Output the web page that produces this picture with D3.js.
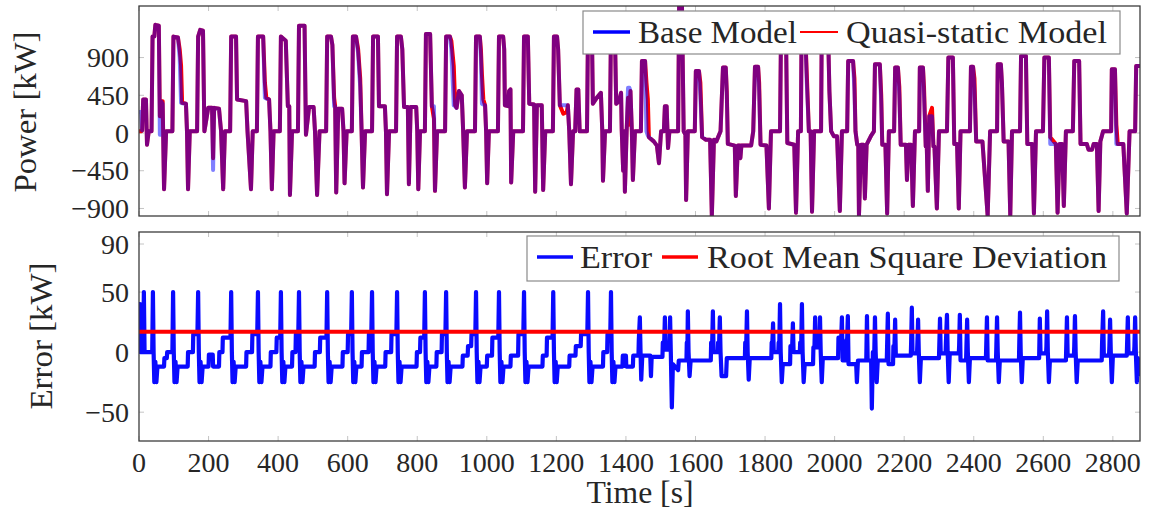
<!DOCTYPE html>
<html>
<head>
<meta charset="utf-8">
<script src="https://cdn.jsdelivr.net/npm/d3@7"></script>
<style>
    html, body { margin: 0; padding: 0; background: #fff; }
    svg { display: block; }
</style>
</head>
<body>
<svg id="chart" width="1151" height="520"></svg>
<script>
/***************************************************************
    Data
****************************************************************/
// top panel: shared time stamps [s], power [kW] of both models
const powerTime = [
    0, 6, 9, 12, 20, 23, 28, 36,
    39, 44, 47, 57, 60, 63, 68, 72, 78, 96,
    99, 112, 117, 121, 124, 135, 138, 141, 146, 167,
    170, 176, 184, 188, 199, 210, 213, 216, 230, 236, 242, 247, 262,
    265, 279, 282, 308, 312, 322, 327, 339,
    342, 357, 362, 366, 374, 378, 382, 387, 405,
    408, 422, 428, 432, 434, 440, 457,
    460, 476, 480, 489, 502, 506, 512, 519, 538,
    541, 552, 556, 561, 564, 567, 573, 584, 588, 591, 597, 612,
    615, 624, 630, 636, 640, 644, 650, 670,
    673, 687, 690, 707, 710, 713, 719, 739,
    742, 753, 757, 762, 773, 776, 781, 797, 800, 803, 808, 822,
    825, 837, 842, 848, 851, 857, 880,
    883, 894, 898, 905, 909, 913, 920, 928, 932, 937, 943, 966,
    969, 980, 983, 986, 990, 995, 998, 1001, 1006, 1032,
    1035, 1047, 1050, 1052, 1061, 1064, 1068, 1070, 1076, 1104,
    1107, 1118, 1122, 1136, 1139, 1144, 1158, 1162, 1168, 1190,
    1193, 1202, 1205, 1210, 1220, 1230, 1233, 1237, 1242, 1248, 1254, 1258, 1263, 1267, 1288,
    1291, 1302, 1305, 1316, 1328, 1332, 1334, 1340, 1354,
    1357, 1368, 1372, 1380, 1386, 1388, 1392, 1395, 1397, 1402, 1406, 1410, 1413, 1417, 1420, 1426, 1443,
    1446, 1455, 1459, 1463, 1466, 1480, 1489, 1495, 1501, 1509, 1512, 1517, 1521, 1525, 1550,
    1553, 1561, 1566, 1571, 1573, 1578, 1598,
    1601, 1610, 1614, 1619, 1630, 1642, 1647, 1653, 1660, 1672,
    1679, 1687, 1690, 1693, 1713, 1716, 1722, 1727, 1729, 1732, 1760, 1766,
    1771, 1780, 1783, 1787, 1804, 1811, 1817, 1843,
    1846, 1860, 1864, 1884, 1889, 1895, 1903,
    1905, 1915, 1920, 1926, 1931, 1935, 1941, 1961,
    1963, 1981, 1985, 1990, 1998, 2007, 2015, 2021, 2036,
    2039, 2053, 2057, 2060, 2065, 2068, 2070, 2076, 2083, 2087, 2092, 2105, 2113,
    2116, 2130, 2134, 2137, 2146, 2151, 2156, 2171,
    2174, 2182, 2186, 2190, 2205, 2208, 2212, 2220, 2225, 2231, 2243,
    2245, 2254, 2257, 2262, 2265, 2268, 2272, 2280, 2284, 2287, 2294, 2300, 2323,
    2327, 2340, 2344, 2352, 2357, 2362, 2389,
    2392, 2398, 2402, 2407, 2425, 2440, 2447, 2467,
    2469, 2478, 2481, 2486, 2500, 2505, 2510, 2533,
    2536, 2550, 2554, 2568, 2573, 2579, 2599,
    2603, 2616, 2620, 2636, 2641, 2647, 2654, 2659, 2665, 2685,
    2689, 2703, 2707, 2725, 2730, 2740, 2745, 2754, 2759, 2764, 2772, 2795,
    2797, 2806, 2810, 2814, 2830, 2840, 2848, 2864, 2867, 2878
];
const baseModel = [
    250, 250, 30, 400, 400, -140, 20, 20,
    1150, 1150, 1290, 1280, -20, 380, 350, -670, 20, 20,
    1150, 1140, 900, 360, 355, 350, 20, -670, 20, 20,
    1150, 1230, 1220, 20, 300, 300, -440, 300, 290, 20, -670, 20, 20,
    1150, 1150, 400, 380, 20, -670, 20, 20,
    1150, 1150, 420, 410, 400, 20, -670, 20, 20,
    1150, 1100, 320, 320, -740, 20, 20,
    1280, 1280, -20, 310, 310, 20, -740, 20, 20,
    1150, 1150, 1050, 320, 320, -710, 290, 290, 20, -600, 20, 20,
    1150, 1150, 950, 550, 20, -650, 20, 20,
    1150, 1150, 320, 320, 20, -730, 20, 20,
    1150, 1150, 1000, 310, 310, -610, 310, 310, 20, -670, 20, 20,
    1180, 1180, 320, 320, -690, 20, 20,
    1150, 1150, 1000, 330, 320, 300, 500, 450, 20, -650, 20, 20,
    1150, 1150, 900, 350, 340, 330, 20, -600, 20, 20,
    1150, 1150, 1000, 330, 320, 500, 520, -590, 20, 20,
    1150, 1150, 350, 340, -700, 330, 330, -680, 20, 20,
    1150, 1150, 1000, 330, 330, 330, 330, 20, -610, 20, 20, 520, 520, 20, 20,
    1250, 1250, 350, 420, 480, 20, -570, 20, 20,
    1250, 1250, 350, 380, 480, 20, -450, 20, -700, 20, 540, 540, 500, 20, -560, 20, 20,
    860, 860, 20, -30, -50, -100, -150, -360, 20, 20, 320, 320, -180, 20, 20,
    1560, 1560, 20, -20, -800, 20, 20,
    740, 740, 450, -50, -80, -80, -990, -80, -100, 20,
    780, 780, 450, -130, -150, -750, -150, -150, -300, -150, -150, 20,
    790, 790, 500, -140, -150, -900, 20, 20,
    1250, 1250, -120, -140, -950, 20, 20,
    1250, 1250, 600, 20, 20, -940, 20, 20,
    1250, 1250, 500, 20, -40, -40, -930, 20, 20,
    860, 860, 500, 20, -140, -140, -990, -140, -140, -780, -140, -30, 20,
    820, 820, 350, -140, -140, -960, 20, 20,
    780, 780, 450, -140, -140, -560, -140, -140, -870, 20, 20,
    780, 780, 450, -160, -160, -690, 200, 200, -160, -160, -900, 20, 20,
    900, 900, -130, -130, -900, 20, 20,
    790, 790, 500, -100, -100, -990, 20, 20,
    820, 820, 600, -100, -100, -990, 20, 20,
    920, 920, -130, -130, -960, 20, 20,
    900, 900, -130, -130, -950, -130, -130, -870, 20, 20,
    860, 860, -130, -130, -200, -200, -130, -130, -930, -100, 20, 20,
    760, 760, -130, -130, -130, -960, 20, 20, 800, 800
];
const quasiStatic = [
    20, 20, 30, 400, 400, -140, 20, 20,
    1150, 1150, 1290, 1280, 200, 380, 380, -670, 20, 20,
    1150, 1140, 1000, 800, 360, 350, 20, -670, 20, 20,
    1150, 1230, 1220, 20, 300, 300, -300, 300, 290, 20, -670, 20, 20,
    1150, 1150, 400, 380, 20, -670, 20, 20,
    1150, 1150, 600, 420, 400, 20, -670, 20, 20,
    1150, 1100, 320, 320, -740, 20, 20,
    1280, 1280, -20, 310, 310, 20, -740, 20, 20,
    1150, 1150, 1050, 420, 320, -710, 290, 290, 20, -600, 20, 20,
    1150, 1150, 1000, 650, 20, -650, 20, 20,
    1150, 1150, 320, 320, 20, -730, 20, 20,
    1150, 1150, 1000, 310, 310, -610, 310, 310, 20, -670, 20, 20,
    1180, 1180, 320, 170, -690, 20, 20,
    1150, 1150, 1100, 800, 330, 300, 500, 450, 20, -650, 20, 20,
    1150, 1150, 1000, 700, 400, 330, 20, -600, 20, 20,
    1150, 1150, 1000, 330, 320, 500, 520, -590, 20, 20,
    1150, 1150, 350, 340, -700, 330, 330, -680, 20, 20,
    1150, 1150, 1000, 330, 230, 250, 330, 20, -610, 20, 20, 520, 520, 20, 20,
    1250, 1250, 350, 420, 480, 20, -570, 20, 20,
    1250, 1250, 350, 380, 480, 20, -450, 20, -700, 20, 420, 100, 500, 20, -560, 20, 20,
    860, 860, 600, 400, -50, -100, -150, -360, 20, 20, 320, 320, -180, 20, 20,
    1560, 1560, 20, -20, -800, 20, 20,
    740, 740, 600, -50, -80, -80, -990, -80, -100, 20,
    780, 780, 500, -130, -150, -750, -150, -150, -300, -150, -150, 20,
    790, 790, 600, -140, -150, -900, 20, 20,
    1250, 1250, -120, -140, -950, 20, 20,
    1250, 1250, 700, 20, 20, -940, 20, 20,
    1250, 1250, 500, 20, -40, -40, -930, 20, 20,
    860, 860, 650, 20, -140, -140, -990, -140, -140, -780, -140, -30, 20,
    820, 820, 450, -140, -140, -960, 20, 20,
    780, 780, 550, -140, -140, -560, -140, -140, -870, 20, 20,
    780, 780, 550, -160, -160, -690, 200, 300, -160, -160, -900, 20, 20,
    900, 900, -130, -130, -900, 20, 20,
    790, 790, 650, -100, -100, -990, 20, 20,
    820, 820, 600, -100, -100, -990, 20, 20,
    920, 920, -130, -130, -960, 20, 20,
    900, 900, -50, -130, -950, -130, -130, -870, 20, 20,
    860, 860, -130, -130, -200, -200, -130, -130, -930, -100, 20, 20,
    760, 760, 100, -130, -130, -960, 20, 20, 800, 800
];

// bottom panel: error [kW] (time stamps and values, one cycle per line)
const errorTime = [
    0, 3, 4, 12, 14, 16, 38,
    40, 42, 44, 47, 50, 53, 72, 73, 80, 81, 96,
    98, 100, 102, 105, 108, 111, 140, 141, 155, 156, 168,
    170, 172, 174, 177, 180, 183, 200, 201, 212, 213, 230, 231, 240, 241, 263,
    265, 267, 269, 272, 275, 278, 308, 309, 325, 326, 340,
    342, 344, 346, 349, 352, 355, 378, 379, 395, 396, 406,
    408, 410, 412, 415, 418, 421, 440, 441, 450, 451, 458,
    460, 462, 464, 467, 470, 473, 505, 506, 520, 521, 539,
    541, 543, 545, 548, 551, 554, 585, 586, 600, 601, 610,
    612, 614, 616, 619, 622, 625, 640, 641, 660, 661, 668,
    670, 672, 674, 677, 680, 683, 708, 709, 725, 726, 740,
    742, 744, 746, 749, 752, 755, 798, 799, 808, 809, 820,
    822, 824, 826, 829, 832, 835, 855, 856, 870, 871, 881,
    883, 885, 887, 890, 893, 896, 930, 931, 945, 946, 955, 956, 967,
    969, 971, 973, 976, 979, 982, 1000, 1001, 1015, 1016, 1033,
    1035, 1037, 1039, 1042, 1045, 1048, 1068, 1069, 1090, 1091, 1105,
    1107, 1109, 1111, 1114, 1117, 1120, 1160, 1161, 1172, 1173, 1189,
    1191, 1193, 1195, 1198, 1201, 1204, 1237, 1238, 1255, 1256, 1270, 1271, 1289,
    1291, 1293, 1295, 1298, 1301, 1304, 1334, 1335, 1346, 1347, 1355,
    1357, 1359, 1361, 1364, 1367, 1370, 1390, 1391, 1400, 1401, 1420, 1421, 1436, 1437,
    1440, 1442, 1444, 1447, 1470, 1472, 1474, 1505, 1506, 1510,
    1512, 1514, 1525, 1527, 1529, 1532, 1535, 1550, 1552, 1574, 1575, 1577,
    1578, 1580, 1583, 1586, 1644, 1645, 1648,
    1650, 1652, 1664, 1665, 1668, 1670, 1672, 1675, 1688, 1690, 1742, 1743, 1746,
    1748, 1750, 1753, 1756, 1818, 1819, 1821,
    1823, 1825, 1838, 1839, 1841,
    1843, 1845, 1848, 1851, 1872, 1873, 1878,
    1880, 1882, 1900, 1901, 1904,
    1906, 1908, 1911, 1914, 1938, 1939, 1942,
    1944, 1946, 1956, 1958, 1960, 1963, 1966, 2010, 2011, 2019,
    2021, 2023, 2033, 2034, 2036,
    2038, 2040, 2062, 2064, 2067, 2091,
    2093, 2095, 2105, 2107, 2110, 2114,
    2116, 2118, 2121, 2124, 2150,
    2153, 2155, 2168, 2169, 2172,
    2174, 2176, 2219, 2220,
    2222, 2224, 2237, 2238,
    2240, 2242, 2245, 2248, 2300,
    2303, 2305, 2319, 2320,
    2323, 2325, 2328, 2331, 2357, 2358,
    2360, 2362, 2378, 2379,
    2381, 2383, 2386, 2389, 2435,
    2438, 2440, 2464, 2465,
    2467, 2469, 2472, 2475, 2530, 2531,
    2533, 2535, 2538, 2541, 2588,
    2590, 2592, 2608, 2609,
    2611, 2613, 2616, 2619, 2665,
    2668, 2670, 2688, 2689,
    2691, 2693, 2696, 2699, 2768, 2769,
    2772, 2774, 2789, 2790,
    2792, 2794, 2797, 2800, 2840,
    2843, 2845, 2861, 2862,
    2864, 2866, 2869, 2872, 2878
];
const errorValue = [
    40, 40, 0, 0, 50, 0, 0,
    50, 0, -25, -8, -25, -12, -12, -5, -5, 0, 0,
    50, 0, -25, -8, -25, -12, -12, 0, 0, 15, 15,
    50, 0, -25, -8, -25, -12, -12, -2, -2, -12, -12, 0, 0, 12, 12,
    50, 0, -25, -8, -25, -12, -12, 0, 0, 15, 15,
    50, 0, -25, -8, -25, -12, -12, 0, 0, 12, 12,
    50, 0, -25, -8, -25, -12, -12, 0, 0, 15, 15,
    50, 0, -25, -8, -25, -12, -12, 0, 0, 12, 12,
    50, 0, -25, -8, -25, -12, -12, 0, 0, 15, 15,
    50, 0, -25, -8, -25, -12, -12, 0, 0, 15, 15,
    50, 0, -25, -8, -25, -12, -12, 0, 0, 15, 15,
    50, 0, -25, -8, -25, -12, -12, 0, 0, 12, 12,
    50, 0, -25, -8, -25, -12, -12, 0, 0, 15, 15,
    50, 0, -25, -8, -25, -12, -12, -3, -3, 5, 5, 15, 15,
    50, 0, -25, -8, -25, -12, -12, -3, -3, 12, 12,
    50, 0, -25, -8, -25, -12, -12, -3, -3, 15, 15,
    50, 0, -25, -8, -25, -12, -12, -3, -3, 12, 12,
    50, 0, -25, -8, -25, -12, -12, -3, -3, 5, 5, 15, 15,
    50, 0, -25, -8, -25, -12, -12, 0, 0, 15, 15,
    50, 0, -25, -8, -25, -12, -12, -3, -3, -12, -12, -3, -3, 10,
    29, 0, -23, -3, -3, -20, -4, -4, 8, 8,
    29, 2, 2, 29, 0, -46, -10, -15, -7, -7, 8, 8,
    34, 0, -20, -7, -7, 8, 8,
    34, 0, 0, 8, 8, 29, 0, -20, -20, -5, -5, 8, 8,
    34, 0, -23, -5, -5, 8, 8,
    24, 0, 0, 8, 8,
    40, 0, -25, -10, -10, 5, 5,
    24, 0, 0, 8, 8,
    40, 0, -25, -10, -10, 4, 4,
    29, 4, 4, 29, 0, -25, -5, -5, 12, 12,
    29, -7, -7, 10, 10,
    30, -10, -10, -25, -7, -7,
    30, -7, -7, -47, 0, 0,
    29, 0, -25, -7, -7,
    32, -10, -10, 5, 5,
    27, -3, -3, 8,
    37, -1, -1, 8,
    27, 0, -25, -5, -5,
    28, -1, -1, 8,
    31, 0, -25, -1, -1, 5,
    31, -7, -7, 5,
    27, 0, -25, -5, -5,
    29, -7, -7, 5,
    29, 0, -25, -7, -7, 8,
    33, 0, -25, -5, -5,
    28, -1, -1, 5,
    34, 0, -25, -7, -7,
    29, -3, -3, 5,
    30, 0, -25, -7, -7, 8,
    34, -3, -3, 5,
    27, 0, -25, -3, -3,
    29, -1, -1, 5,
    29, 0, -25, -5, -20
];
const rmsd = 17;

const timeTicks = [0, 200, 400, 600, 800, 1000, 1200, 1400, 1600, 1800, 2000, 2200, 2400, 2600, 2800];
const powerTicks = [-900, -450, 0, 450, 900];
const errorTicks = [-50, 0, 50, 90];

const timeDomain = [0, 2878];
const powerDomain = [-990, 1515];
const errorDomain = [-74, 100];

/***************************************************************
    Layout
****************************************************************/
const plotLeft = 139, plotRight = 1140;
const topPanel = { y0: 6, y1: 216 };
const bottomPanel = { y0: 232, y1: 441 };
const tickFont = 28, labelFont = 31;
const serif = "Liberation Serif";

const svg = d3.select("#chart").attr("font-family", serif);
svg.append("rect").attr("width", 1151).attr("height", 520).attr("fill", "#fff");

const x = d3.scaleLinear().domain(timeDomain).range([plotLeft, plotRight]);
const yPower = d3.scaleLinear().domain(powerDomain).range([topPanel.y1, topPanel.y0]);
const yError = d3.scaleLinear().domain(errorDomain).range([bottomPanel.y1, bottomPanel.y0]);

const minus = d3.format("d");

/***************************************************************
    Drawing helpers
****************************************************************/
function clipFor(id, panel) {
    svg.append("clipPath").attr("id", id)
        .append("rect")
        .attr("x", plotLeft).attr("y", panel.y0)
        .attr("width", plotRight - plotLeft).attr("height", panel.y1 - panel.y0);
}

function innerTicks(panel, yScale, yTicks) {
    const g = svg.append("g").attr("stroke", "#c4c4c4").attr("stroke-width", 1);
    timeTicks.forEach(t => {
        g.append("line").attr("x1", x(t)).attr("x2", x(t)).attr("y1", panel.y1).attr("y2", panel.y1 - 5);
        g.append("line").attr("x1", x(t)).attr("x2", x(t)).attr("y1", panel.y0).attr("y2", panel.y0 + 5);
    });
    yTicks.forEach(v => {
        g.append("line").attr("x1", plotLeft).attr("x2", plotLeft + 5).attr("y1", yScale(v)).attr("y2", yScale(v));
        g.append("line").attr("x1", plotRight).attr("x2", plotRight - 5).attr("y1", yScale(v)).attr("y2", yScale(v));
    });
}

function addText(sel) {
    return sel.append("text")
        .attr("font-family", serif)
        .attr("fill", "#262626");
}

function yTickLabels(yScale, yTicks) {
    const g = svg.append("g");
    yTicks.forEach(d => {
        addText(g)
            .attr("x", plotLeft - 10)
            .attr("y", yScale(d))
            .attr("dy", "0.34em")
            .attr("text-anchor", "end")
            .attr("font-size", tickFont)
            .text(minus(d));
    });
}

function frame(panel) {
    svg.append("rect")
        .attr("x", plotLeft).attr("y", panel.y0)
        .attr("width", plotRight - plotLeft).attr("height", panel.y1 - panel.y0)
        .attr("fill", "none").attr("stroke", "#3c3c3c").attr("stroke-width", 1.3);
}

function legendBox(x0, y0, w, h) {
    svg.append("rect").attr("x", x0).attr("y", y0).attr("width", w).attr("height", h)
        .attr("fill", "#fff").attr("stroke", "#8a8a8a").attr("stroke-width", 1.2);
}

function legendEntry(x0, x1, y, color, width, label, tx, tlen, baseline) {
    svg.append("line").attr("x1", x0).attr("x2", x1).attr("y1", y).attr("y2", y)
        .attr("stroke", color).attr("stroke-width", width);
    addText(svg).attr("x", tx).attr("y", baseline)
        .attr("font-size", labelFont)
        .attr("textLength", tlen).attr("lengthAdjust", "spacingAndGlyphs")
        .text(label);
}

/***************************************************************
    Top panel: power
****************************************************************/
clipFor("clip-top", topPanel);
innerTicks(topPanel, yPower, powerTicks);

const powerLine = d3.line()
    .x((d, i) => x(powerTime[i]))
    .y(d => yPower(d));

const topLines = svg.append("g").attr("clip-path", "url(#clip-top)");
topLines.append("path").datum(quasiStatic)
    .attr("d", powerLine).attr("fill", "none")
    .attr("stroke", "#ff0000").attr("stroke-width", 4).attr("stroke-linejoin", "round");
topLines.append("path").datum(baseModel)
    .attr("d", powerLine).attr("fill", "none")
    .attr("stroke", "#0000ff").attr("stroke-opacity", 0.5)
    .attr("stroke-width", 4).attr("stroke-linejoin", "round");

frame(topPanel);
yTickLabels(yPower, powerTicks);

legendBox(583, 11, 537, 43);
legendEntry(593, 630, 32, "#0000ff", 3.4, "Base Model", 638, 159, 43);
legendEntry(800, 838, 32, "#ff0000", 2, "Quasi-static Model", 846, 261, 43);

addText(svg)
    .attr("transform", "translate(36,112) rotate(-90)")
    .attr("text-anchor", "middle")
    .attr("font-size", labelFont)
    .attr("textLength", 161).attr("lengthAdjust", "spacingAndGlyphs")
    .text("Power [kW]");

/***************************************************************
    Bottom panel: error
****************************************************************/
clipFor("clip-bottom", bottomPanel);
innerTicks(bottomPanel, yError, errorTicks);

const errorLine = d3.line()
    .x((d, i) => x(errorTime[i]))
    .y(d => yError(d));

const bottomLines = svg.append("g").attr("clip-path", "url(#clip-bottom)");
bottomLines.append("path").datum(errorValue)
    .attr("d", errorLine).attr("fill", "none")
    .attr("stroke", "#0a0aff").attr("stroke-width", 4.2).attr("stroke-linejoin", "round");
bottomLines.append("line")
    .attr("x1", x(timeDomain[0])).attr("x2", x(timeDomain[1]))
    .attr("y1", yError(rmsd)).attr("y2", yError(rmsd))
    .attr("stroke", "#ff0000").attr("stroke-width", 4);

frame(bottomPanel);
yTickLabels(yError, errorTicks);

const xLabels = svg.append("g");
timeTicks.forEach(d => {
    addText(xLabels)
        .attr("x", x(d))
        .attr("y", bottomPanel.y1 + 31)
        .attr("text-anchor", "middle")
        .attr("font-size", tickFont)
        .text(d);
});

legendBox(527, 236, 592, 45);
legendEntry(537, 573, 257, "#0a0aff", 3.6, "Error", 580, 72, 268);
legendEntry(662, 698, 257, "#ff0000", 3.6, "Root Mean Square Deviation", 707, 400, 268);

addText(svg)
    .attr("transform", "translate(52,336) rotate(-90)")
    .attr("text-anchor", "middle")
    .attr("font-size", labelFont)
    .attr("textLength", 147).attr("lengthAdjust", "spacingAndGlyphs")
    .text("Error [kW]");

addText(svg)
    .attr("x", 640).attr("y", 503)
    .attr("text-anchor", "middle")
    .attr("font-size", labelFont)
    .attr("textLength", 107).attr("lengthAdjust", "spacingAndGlyphs")
    .text("Time [s]");
</script>
</body>
</html>
